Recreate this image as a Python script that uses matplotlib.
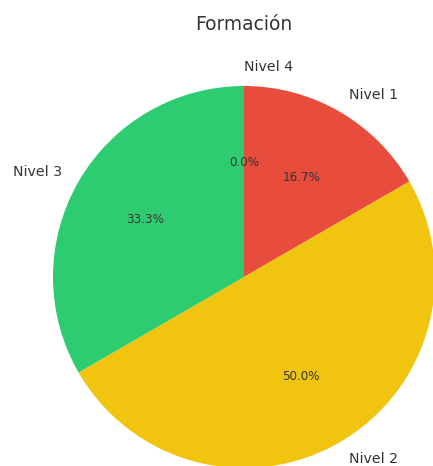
import matplotlib
matplotlib.use('Agg')
import matplotlib.pyplot as plt

labels = ['Nivel 1', 'Nivel 2', 'Nivel 3', 'Nivel 4']
values = [1, 3, 2, 0]
colors = ['#e74c3c', '#f1c40f', '#2ecc71', '#3498db']

W, H = 433, 466
fig = plt.figure(figsize=(W / 100, H / 100), dpi=100)

# pie centre and radius in pixels
cx, cy, r = 244, 277, 191
box = 2 * r * 1.25
ax = fig.add_axes([(cx - box / 2) / W, (H - cy - box / 2) / H, box / W, box / H])

wedges, texts, autotexts = ax.pie(
    values, labels=labels, colors=colors, autopct='%1.1f%%',
    startangle=90, counterclock=False,
    textprops={'color': '#333333', 'fontsize': 10.2})
for t in autotexts:
    t.set_fontsize(8.6)
ax.set_xlim(-1.25, 1.25)
ax.set_ylim(-1.25, 1.25)
ax.set_aspect('equal')

fig.text(cx / W, 1 - 24 / H, 'Formación', ha='center', va='center',
         fontsize=13.4, color='#333333')

fig.savefig('out.png', dpi=100)
